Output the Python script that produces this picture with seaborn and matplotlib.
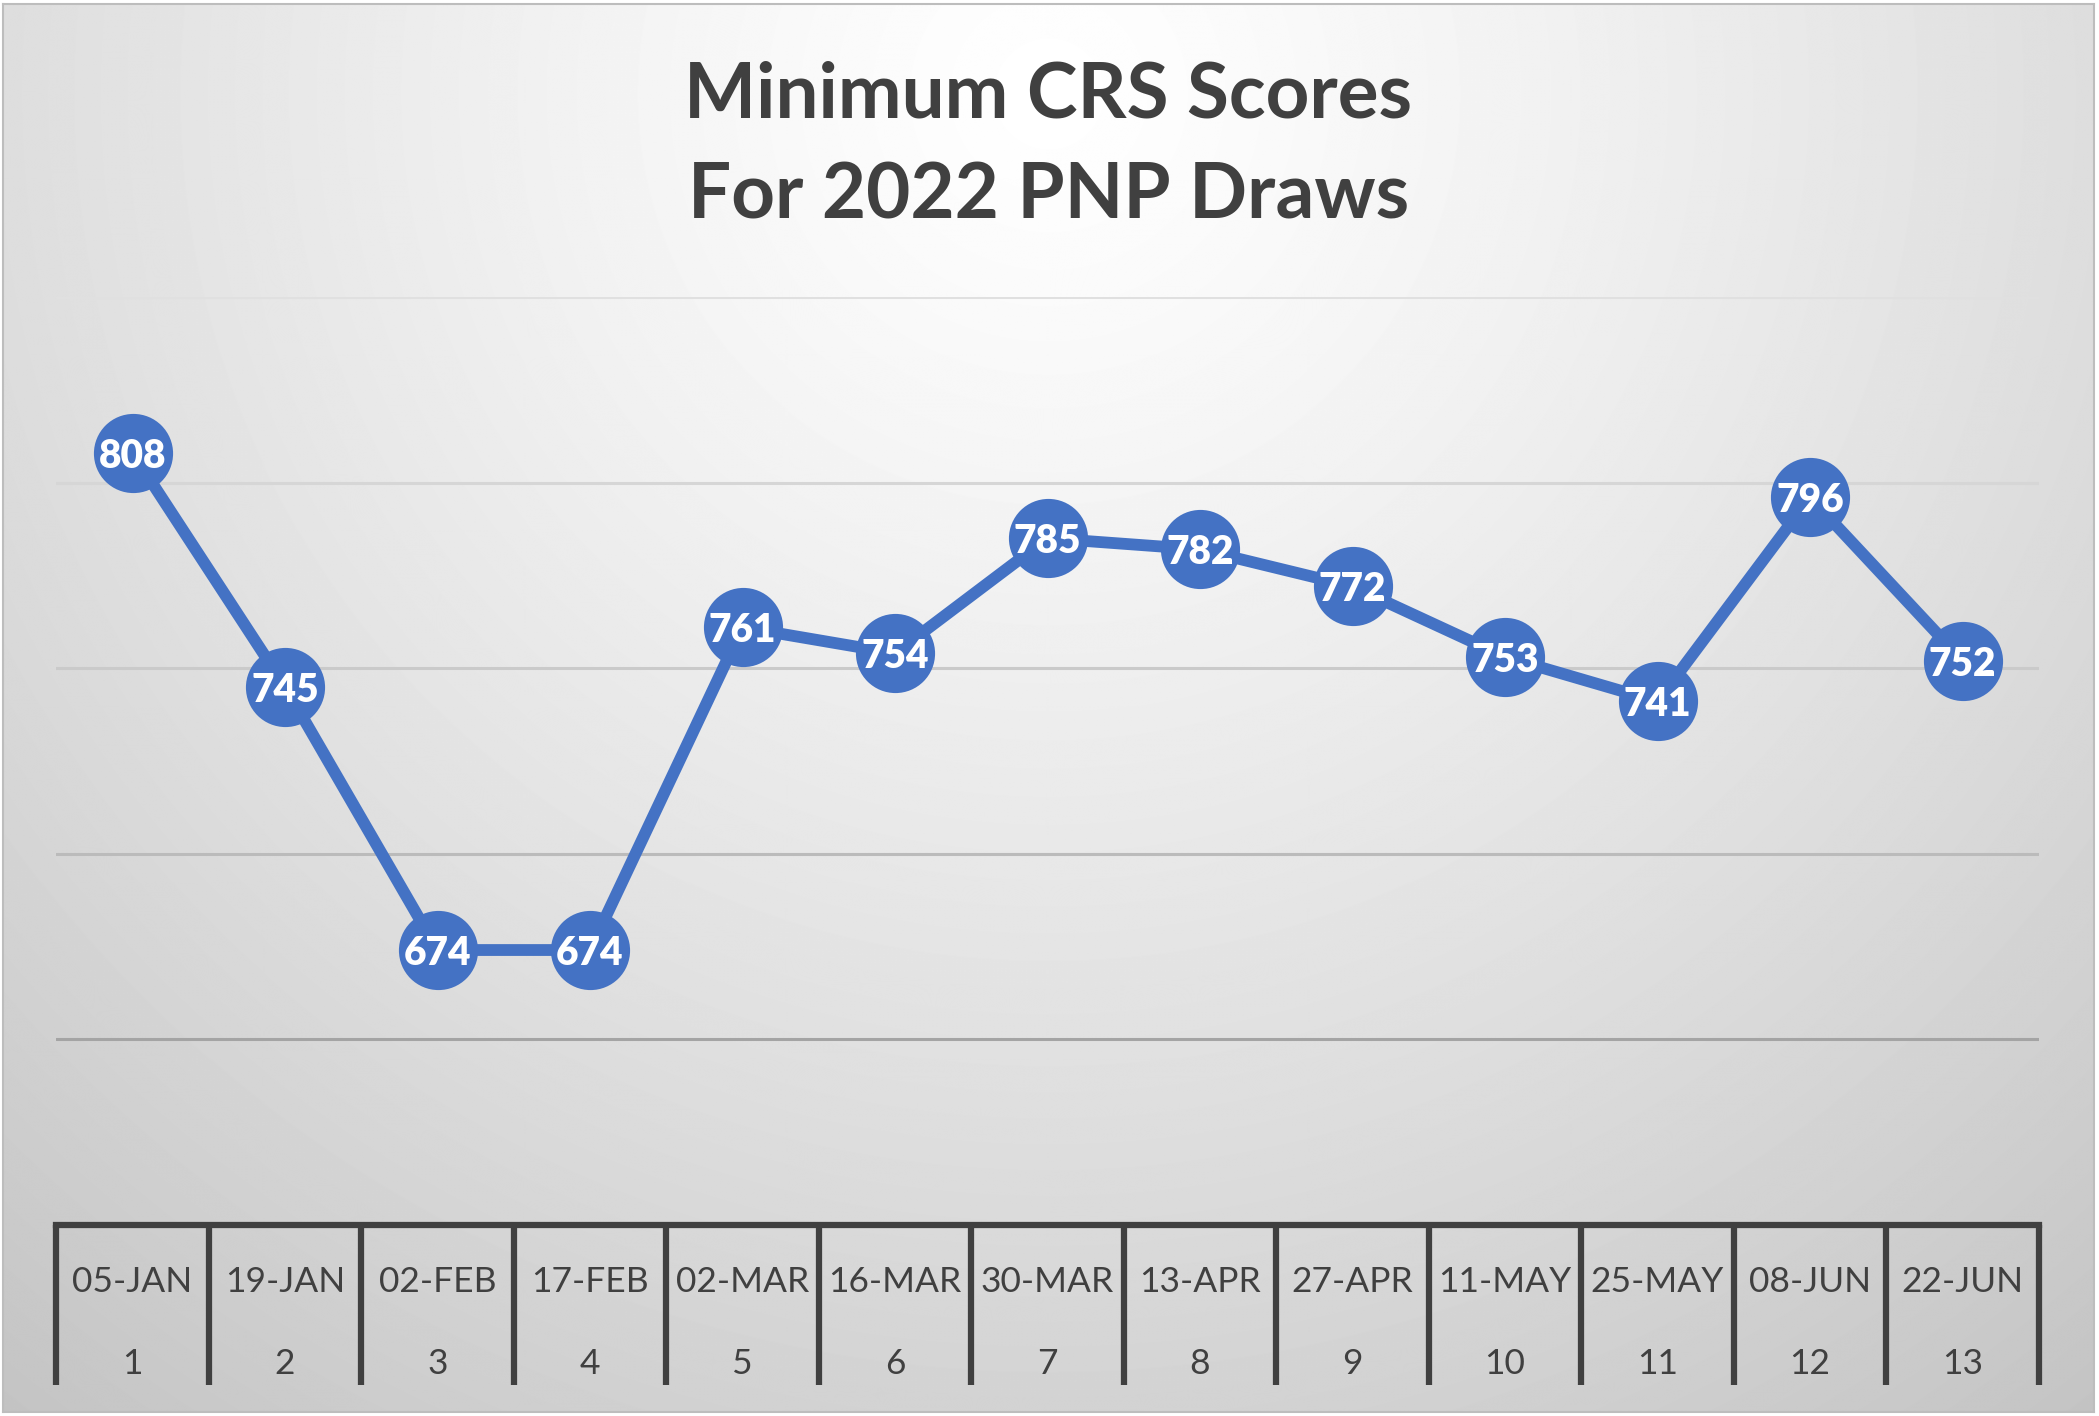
import numpy as np
import pandas as pd
import seaborn as sns
import matplotlib.pyplot as plt
from matplotlib.transforms import blended_transform_factory

# ---- data ----
dates = ["05-JAN", "19-JAN", "02-FEB", "17-FEB", "02-MAR", "16-MAR", "30-MAR",
         "13-APR", "27-APR", "11-MAY", "25-MAY", "08-JUN", "22-JUN"]
draw_numbers = ["1", "2", "3", "4", "5", "6", "7", "8", "9", "10", "11", "12", "13"]
scores = [808, 745, 674, 674, 761, 754, 785, 782, 772, 753, 741, 796, 752]
grid_values = [650, 700, 750, 800, 850]

df = pd.DataFrame({"pos": np.arange(len(dates)), "date": dates,
                   "draw": draw_numbers, "score": scores})

sns.set_theme(style="white")
plt.rcParams["font.family"] = ["Lato", "DejaVu Sans"]

W, H = 2099, 1416
fig = plt.figure(figsize=(W / 100, H / 100), dpi=100)
fig.patch.set_facecolor("white")

# ---- background radial gradient ----
bg = fig.add_axes([0.0015, 0.003, 0.996, 0.994])
yy, xx = np.mgrid[0:H, 0:W]
r = np.sqrt((xx - W * 0.5) ** 2 + (yy - 90) ** 2)
v = 1 - 0.235 * np.clip(r / 1700.0, 0, 1) ** 1.2
bg.imshow(v, cmap="gray", vmin=0, vmax=1, aspect="auto", interpolation="bilinear")
bg.set_xticks([]); bg.set_yticks([])
for s in bg.spines.values():
    s.set_color("#bdbdbd"); s.set_linewidth(1.5)

# ---- main axes ----
ax = fig.add_axes([0.0268, 0.1352, 0.9445, 0.655])
ax.patch.set_alpha(0)

grid_colors = ["#a4a4a4", "#bbbbbb", "#cacaca", "#d6d6d6", "#e0e0e0"]
for gv, gc in zip(grid_values, grid_colors):
    ax.axhline(gv, color=gc, lw=2.2, zorder=0)

sns.lineplot(data=df, x="pos", y="score", ax=ax, color="#4472C4", lw=8.5,
             marker="o", markersize=57, markeredgewidth=0, zorder=3)
for i, val in enumerate(scores):
    ax.text(i, val, str(val), ha="center", va="center_baseline", color="white",
            fontsize=28, fontweight="heavy", zorder=5)

ax.set_xlim(-0.5, len(dates) - 0.5)
ax.set_ylim(600, 850)
ax.set_xticks([]); ax.set_yticks([])
ax.set_xlabel(""); ax.set_ylabel("")
for name, s in ax.spines.items():
    s.set_visible(name == "bottom")
ax.spines["bottom"].set_color("#404040")
ax.spines["bottom"].set_linewidth(4.5)

# ---- multi-level category axis table ----
trans = blended_transform_factory(ax.transData, ax.transAxes)
for b in np.arange(-0.5, len(dates)):
    ax.plot([b, b], [0, -0.173], transform=trans, color="#404040", lw=4.5,
            clip_on=False, solid_capstyle="butt")
for i, (d, n) in enumerate(zip(dates, draw_numbers)):
    ax.text(i, -0.062, d, transform=trans, ha="center", va="center",
            fontsize=25.5, color="#404040")
    ax.text(i, -0.150, n, transform=trans, ha="center", va="center",
            fontsize=25.5, color="#404040")

# ---- title ----
fig.text(0.4995, 0.897, "Minimum CRS Scores\nFor 2022 PNP Draws", ha="center",
         va="center", fontsize=55, fontweight="bold", color="#404040",
         linespacing=1.55)

fig.savefig("out.png", dpi=100)
